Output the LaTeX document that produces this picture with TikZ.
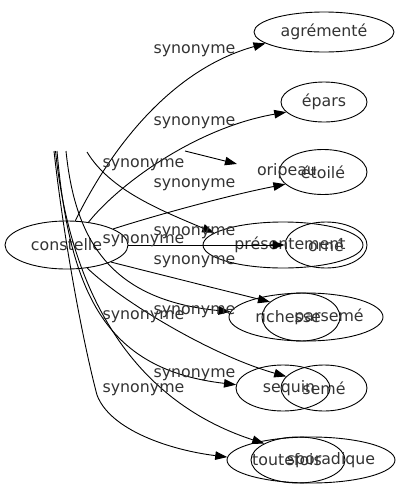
\documentclass[tikz,border=0pt]{standalone}
\usepackage{fontspec}
\setmainfont{DejaVu Sans}
\usetikzlibrary{shapes.geometric, arrows.meta}

\tikzset{
  word/.style={ellipse, draw, line width=0.9pt, inner sep=0pt, minimum height=46pt,
    text=black!80, font=\fontsize{15.8}{19}\selectfont},
  syn/.style={text=black!80, font=\fontsize{15.8}{19}\selectfont, inner sep=0pt},
  edge/.style={line width=0.9pt, -{Triangle[length=12pt, width=8.5pt]}},
}

\begin{document}
\begin{tikzpicture}[x=1pt, y=-1pt]
    \useasboundingbox (0,0) rectangle (401,491);

    % Source word
    \node[word, minimum width=123pt, minimum height=48pt] (constelle) at (66.5,245) {constelle};

    % Synonyms, first column
    \node[word, minimum width=140pt, minimum height=40pt] (agremente) at (324,32) {agrémenté};
    \node[word, minimum width=86pt, minimum height=40pt] (epars) at (324,102) {épars};
    \node[word, minimum width=88pt, minimum height=45pt] (etoile) at (323,172) {étoilé};
    \node[word, minimum width=82pt] (orne) at (326,245) {orné};
    \node[word, minimum width=78pt, minimum height=48pt,
        label={[syn, xshift=28pt]center:parsemé}] (parseme) at (301,317) {};
    \node[word, minimum width=86pt] (seme) at (324,388) {semé};
    \node[word, minimum width=94pt,
        label={[syn, xshift=33pt]center:sporadique}] (sporadique) at (298,460) {};

    % Synonyms, second column (overlapping)
    \node[word, draw=none, minimum width=104pt] (oripeau) at (287,171) {oripeau};
    \node[word, minimum width=160pt,
        label={[syn, xshift=7pt]center:présentement}] (presentement) at (283,245) {};
    \node[word, minimum width=154pt, minimum height=48pt,
        label={[syn, xshift=-18pt]center:richesse}] (richesse) at (306,317) {};
    \node[word, minimum width=94pt,
        label={[syn, xshift=6pt]center:sequin}] (sequin) at (283,388) {};
    \node[word, minimum width=168pt,
        label={[syn, xshift=-24pt]center:toutefois}] (toutefois) at (311,460) {};

    % Cut edge ends at the top
    \coordinate (cutA) at (54,151);
    \coordinate (cutB) at (55.5,151);
    \coordinate (cutC) at (57,151);
    \coordinate (cutD) at (66,151);
    \coordinate (cutE) at (87,152);
    \coordinate (cutF) at (185,151);

    % Edges from constelle
    \draw[edge] (constelle.70) .. controls (110,150) and (170,70) .. (agremente.191);
    \draw[edge] (constelle.46) .. controls (118,185) and (195,128) .. (epars.195);
    \draw[edge] (constelle.19) .. controls (150,217) and (225,196) .. (etoile.198);
    \draw[edge] (constelle.east) -- (orne.west);
    \draw[edge] (constelle.339) .. controls (150,272) and (230,292) .. (parseme.154);
    \draw[edge] (constelle.312) .. controls (120,300) and (210,355) .. (seme.163);

    % Edges from the top
    \draw[edge] (cutF) -- (oripeau.172);
    \draw[edge] (cutE) .. controls (110,190) and (160,210) .. (presentement.170);
    \draw[edge] (cutD) .. controls (75,240) and (110,300) .. (richesse.176);
    \draw[edge] (cutC) .. controls (70,300) and (110,370) .. (sequin.176);
    \draw[edge] (cutB) .. controls (70,290) and (130,400) .. (sporadique.154);
    \draw[edge] (cutA) .. controls (65,250) and (85,350) .. (97,395)
        .. controls (110,430) and (170,450) .. (toutefois.178);

    % Edge labels
    \foreach \x/\y [count=\i] in {194.5/51, 194.5/123, 143.5/165, 194.5/185, 194.5/233,
        143.5/241, 194.5/262, 194.5/312, 143.5/317, 194.5/375, 143.5/390}
        \node[syn] (syn\i) at (\x,\y) {synonyme};

\end{tikzpicture}
\end{document}
